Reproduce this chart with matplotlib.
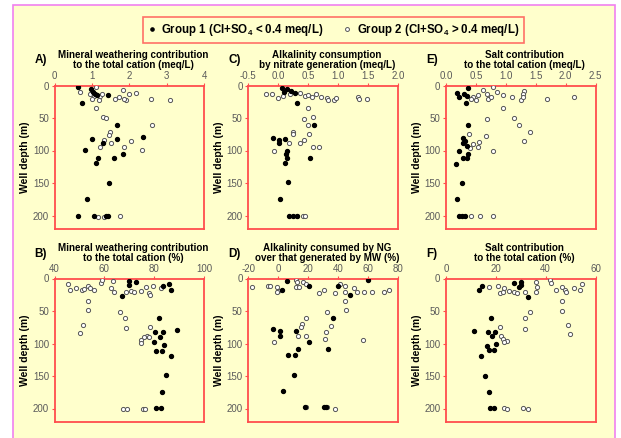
import matplotlib
matplotlib.use("Agg")
import matplotlib.pyplot as plt
from matplotlib.patches import Rectangle
from matplotlib.lines import Line2D

plt.rcParams["font.family"] = "Liberation Sans"
plt.rcParams["mathtext.fontset"] = "custom"
plt.rcParams["mathtext.rm"] = "Liberation Sans"
plt.rcParams["mathtext.bf"] = "Liberation Sans:bold"

# ---- data ----
# A) mineral weathering contribution (meq/L)
a_g1_x = [0.62, 0.73, 0.98, 1.02, 1.08, 1.15, 1.42, 1.66, 1.0, 1.66, 2.37, 1.30, 0.82, 1.16,
          1.60, 1.83, 1.10, 1.47, 0.87, 0.64, 1.05, 1.39, 1.44]
a_g1_y = [2, 27, 5, 10, 13, 15, 15, 61, 82, 82, 79, 88, 99, 112, 112, 105, 119, 150, 175,
          200, 200, 200, 200]
a_g2_x = [1.12, 0.69, 0.94, 1.05, 1.83, 1.99, 2.17, 1.92, 1.85, 1.63, 1.72, 2.59, 3.10, 1.21,
          1.28, 1.0, 1.19, 1.10, 1.31, 1.39, 2.61, 1.49, 1.45, 1.33, 1.51, 1.23, 2.05, 1.87,
          2.35, 1.16, 1.32, 1.76]
a_g2_y = [2, 10, 13, 16, 7, 13, 11, 23, 21, 20, 17, 20, 23, 16, 13, 20, 23, 34, 48, 50, 61,
          71, 76, 84, 88, 95, 85, 95, 99, 202, 202, 200]

# C) alkalinity consumption by nitrate generation (meq/L)
c_g1_x = [0.06, 0.15, 0.22, 0.28, 0.10, 0.32, 0.60, -0.08, 0.01, 0.12, 0.01, 0.15, 0.13, 0.14,
          0.11, 0.53, 0.16, 0.03, 0.18, 0.25, 0.32]
c_g1_y = [4, 5, 8, 12, 10, 27, 60, 80, 88, 83, 84, 100, 106, 111, 119, 111, 149, 174, 200,
          200, 200]
c_g2_x = [-0.21, -0.11, 0.0, 0.08, 0.20, 0.36, 0.44, 0.50, 0.56, 0.64, 0.72, 0.82, 0.84, 0.93,
          0.96, 1.33, 1.35, 1.49, 0.49, 0.43, 0.58, 0.50, 0.24, 0.24, 0.51, 0.43, 0.36, 0.18,
          0.59, 0.68, -0.07, 0.31, 0.42, 0.45]
c_g2_y = [13, 13, 19, 16, 13, 11, 16, 14, 17, 13, 18, 19, 23, 22, 19, 18, 21, 21, 35, 52, 49,
          60, 71, 75, 74, 84, 88, 88, 94, 94, 100, 200, 200, 201]

# E) salt contribution to the total cation (meq/L)
e_g1_x = [0.37, 0.18, 0.21, 0.30, 0.35, 0.34, 0.36, 0.29, 0.32, 0.29, 0.35, 0.22, 0.36, 0.28,
          0.35, 0.16, 0.26, 0.19, 0.21, 0.26, 0.32]
e_g1_y = [4, 12, 17, 13, 16, 27, 61, 81, 85, 89, 93, 100, 105, 112, 112, 121, 150, 174, 200,
          200, 200]
e_g2_x = [0.62, 0.78, 0.85, 0.68, 0.53, 0.45, 0.51, 0.42, 0.71, 0.75, 0.96, 1.11, 1.31, 1.29,
          1.25, 1.28, 1.69, 2.14, 0.95, 0.68, 1.13, 1.22, 1.40, 1.31, 0.67, 0.39, 0.56, 0.45,
          0.40, 0.53, 0.78, 0.42, 0.57, 0.78]
e_g2_y = [7, 2, 10, 13, 14, 17, 22, 20, 21, 17, 14, 18, 9, 13, 23, 17, 20, 18, 35, 52, 50, 61,
          71, 85, 78, 75, 87, 90, 96, 95, 100, 200, 200, 200]

# B) mineral weathering contribution (%)
b_g1_x = [70.1, 70.1, 72.9, 67.1, 83.4, 85.9, 86.8, 82.0, 89.0, 80.5, 83.5, 82.3, 79.9, 83.9,
          80.9, 83.0, 86.6, 84.6, 83.0, 80.7, 82.8]
b_g1_y = [4, 10, 6, 27, 11, 9, 17, 61, 79, 82, 82, 90, 98, 103, 111, 111, 119, 149, 174, 199,
          199]
b_g2_x = [45.6, 46.3, 48.7, 51.0, 51.7, 53.3, 54.1, 56.0, 58.7, 59.1, 63.5, 62.8, 64.0, 68.5,
          70.7, 71.8, 74.8, 76.8, 78.1, 78.5, 79.6, 82.6, 53.3, 53.3, 66.2, 68.1, 68.5, 51.3,
          50.3, 78.5, 77.2, 76.1, 74.8, 74.9, 78.1, 67.4, 69.1, 75.4, 76.2]
b_g2_y = [8, 17, 15, 18, 16, 12, 14, 17, 7, 3, 4, 14, 20, 21, 19, 20, 19, 13, 22, 25, 12, 14,
          34, 49, 51, 61, 76, 71, 84, 74, 88, 90, 94, 99, 90, 200, 200, 200, 200]

# D) alkalinity consumed by NG over that generated by MW (%)
d_g1_x = [5.9, 2.8, 20.5, 39.7, 47.9, 60.3, 36.4, -3.8, 1.0, 1.0, 12.1, 20.9, 13.2, 33.1, 6.5,
          11.4, 10.5, 3.2, 30.9, 32.0, 18.1]
d_g1_y = [4, 17, 11, 11, 26, 3, 61, 78, 81, 88, 81, 98, 109, 109, 118, 118, 148, 173, 197,
          197, 197]
d_g2_x = [-17.8, -6.7, -5.2, -0.5, 0.0, -0.5, 12.1, 12.6, 11.7, 13.6, 16.9, 18.3, 27.6, 30.9,
          38.2, 41.3, 44.6, 44.8, 50.4, 53.0, 57.4, 63.0, 70.7, 74.0, 44.8, 45.3, 32.4, 18.7,
          16.1, 15.4, 35.3, 32.0, 13.2, 18.3, 31.3, 56.8, -3.0, 18.3, 32.7, 38.0]
d_g2_y = [13, 11, 12, 13, 19, 21, 2, 6, 13, 13, 6, 8, 22, 17, 22, 8, 11, 21, 14, 20, 21, 21,
          20, 17, 34, 49, 51, 61, 70, 74, 73, 83, 88, 88, 93, 94, 98, 198, 197, 200]

# F) salt contribution to the total cation (%)
f_g1_x = [14.3, 13.3, 27.2, 29.9, 29.9, 29.3, 32.9, 18.0, 11.2, 16.9, 18.3, 19.6, 20.0, 16.5,
          17.3, 19.2, 13.9, 15.6, 17.3, 17.6, 19.3]
f_g1_y = [12, 18, 7, 5, 10, 13, 28, 61, 80, 83, 89, 83, 100, 104, 110, 110, 119, 150, 174,
          199, 199]
f_g2_x = [17.3, 20.9, 23.2, 21.6, 22.7, 25.2, 27.2, 28.3, 31.6, 36.3, 36.7, 36.0, 41.6, 42.3,
          44.3, 46.5, 47.6, 48.3, 51.2, 53.9, 54.7, 46.5, 46.5, 33.6, 31.6, 31.6, 21.6, 48.9,
          49.9, 22.0, 22.9, 24.5, 23.3, 23.3, 24.5, 30.9, 32.9]
f_g2_y = [13, 12, 14, 23, 21, 19, 21, 23, 21, 5, 13, 21, 3, 7, 17, 13, 17, 21, 14, 17, 9, 35,
          50, 52, 61, 78, 74, 71, 85, 89, 93, 96, 98, 199, 200, 199, 200]

depth_ticks = [0, 50, 100, 150, 200]

panels = [
    # letter, title, xlim, xticks, xticklabels, g1, g2, (left_px, top_px)
    ("A)", "Mineral weathering contribution\nto the total cation (meq/L)", (0, 4),
     [0, 1, 2, 3, 4], ["0", "1", "2", "3", "4"],
     (a_g1_x, a_g1_y), (a_g2_x, a_g2_y), (54.5, 85.5)),
    ("C)", "Alkalinity consumption\nby nitrate generation (meq/L)", (-0.5, 2.0),
     [-0.5, 0.0, 0.5, 1.0, 1.5, 2.0], ["-0.5", "0.0", "0.5", "1.0", "1.5", "2.0"],
     (c_g1_x, c_g1_y), (c_g2_x, c_g2_y), (248.3, 85.5)),
    ("E)", "Salt contribution\nto the total cation (meq/L)", (0, 2.5),
     [0, 0.5, 1.0, 1.5, 2.0, 2.5], ["0.0", "0.5", "1.0", "1.5", "2.0", "2.5"],
     (e_g1_x, e_g1_y), (e_g2_x, e_g2_y), (446, 85.5)),
    ("B)", "Mineral weathering contribution\nto the total cation (%)", (40, 100),
     [40, 60, 80, 100], ["40", "60", "80", "100"],
     (b_g1_x, b_g1_y), (b_g2_x, b_g2_y), (54.5, 278.5)),
    ("D)", "Alkalinity consumed by NG\nover that generated by MW (%)", (-20, 80),
     [-20, 0, 20, 40, 60, 80], ["-20", "0", "20", "40", "60", "80"],
     (d_g1_x, d_g1_y), (d_g2_x, d_g2_y), (248.3, 278.5)),
    ("F)", "Salt contribution\nto the total cation (%)", (0, 60),
     [0, 20, 40, 60], ["0", "20", "40", "60"],
     (f_g1_x, f_g1_y), (f_g2_x, f_g2_y), (446, 278.5)),
]

W, H = 621, 438
fig = plt.figure(figsize=(W / 100, H / 100), dpi=100)
fig.patch.set_facecolor("white")

# yellow page with pink frame
fig.patches.append(Rectangle((13 / W, -0.05), (615 - 13) / W, 1.05 - 5 / H,
                             transform=fig.transFigure, facecolor="#ffffcc",
                             edgecolor="#f080f0", linewidth=1.2, zorder=-10))

red = "#ff4d4d"
ax_w, ax_h = 149.5, 143

for letter, title, xlim, xt, xtl, g1, g2, (lx, ty) in panels:
    ax = fig.add_axes([lx / W, 1 - (ty + ax_h) / H, ax_w / W, ax_h / H])
    ax.set_facecolor("#ffffcc")
    ax.scatter(g2[0], g2[1], s=9, facecolor="white", edgecolor="#555555",
               linewidth=0.7, zorder=3)
    ax.scatter(g1[0], g1[1], s=8, color="black", zorder=4)
    ax.set_xlim(*xlim)
    ax.set_ylim(220, 0)
    ax.xaxis.tick_top()
    ax.set_xticks(xt)
    ax.set_xticklabels(xtl)
    ax.set_yticks(depth_ticks)
    ax.tick_params(direction="out", length=2.5, width=0.8, color=red,
                   labelsize=7, labelcolor="#5a5a5a", pad=1.5)
    ax.tick_params(axis="x", pad=1)
    for sp in ax.spines.values():
        sp.set_color(red)
        sp.set_linewidth(1.3)
    ax.set_ylabel("Well depth (m)", fontsize=7.5, fontweight="bold", labelpad=2)

    cx = (lx + ax_w / 2 + 4) / W
    fig.text(cx, 1 - (ty - 25.5) / H, title, ha="center", va="center",
             fontsize=7.1, fontweight="bold", linespacing=0.95)
    fig.text((lx - 20) / W, 1 - (ty - 25) / H, letter, ha="left", va="center",
             fontsize=8.5, fontweight="bold")

handles = [
    Line2D([], [], marker="o", linestyle="none", markersize=2.3, color="black"),
    Line2D([], [], marker="o", linestyle="none", markersize=2.8, markerfacecolor="white",
           markeredgecolor="#555555", markeredgewidth=0.7),
]
labels = [r"Group 1 (Cl+SO$_\mathbf{4}$ < 0.4 meq/L)",
          r"Group 2 (Cl+SO$_\mathbf{4}$ > 0.4 meq/L)"]
leg = fig.legend(handles, labels, loc="center", bbox_to_anchor=(333.6 / W, 1 - 30 / H),
                 ncol=2, fancybox=False, frameon=True, edgecolor=red, facecolor="#ffffcc",
                 handlelength=0.6, handletextpad=0.5, columnspacing=1.8,
                 borderpad=0.45, borderaxespad=0, prop={"weight": "bold", "size": 8.3})
leg.get_frame().set_linewidth(1.2)

fig.savefig("out.png", dpi=100)
